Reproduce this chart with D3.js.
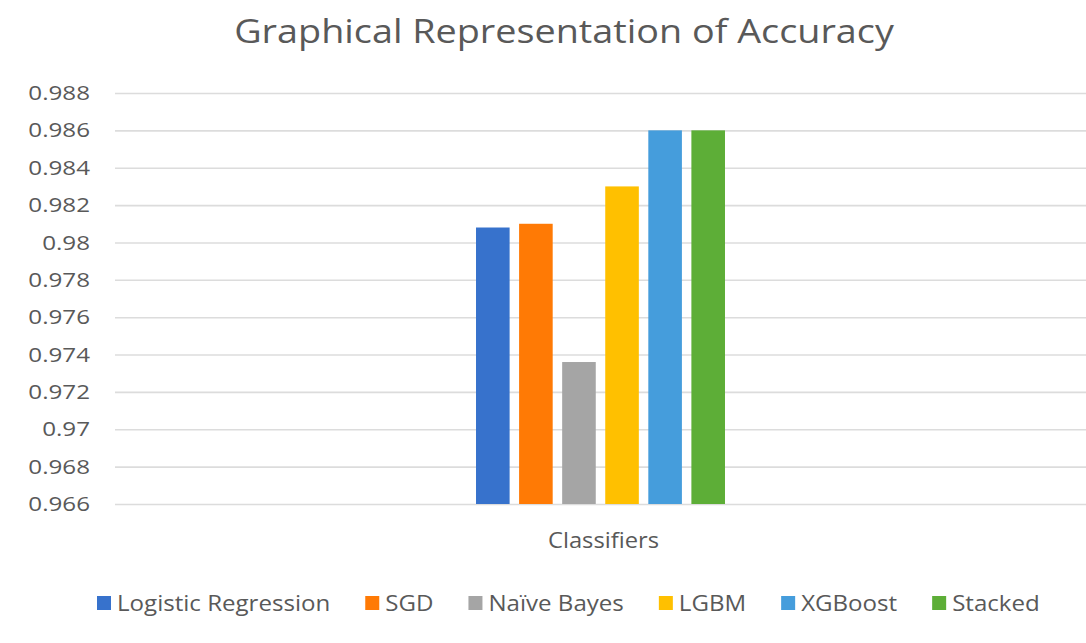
<!DOCTYPE html>
<html>
<head>
<meta charset="utf-8">
<script src="https://cdn.jsdelivr.net/npm/d3@7"></script>
<style>
  html, body { margin: 0; padding: 0; background: #fff; }
  svg { display: block; }
  text { font-family: "Open Sans", "Noto Sans", sans-serif; fill: #595959; }
</style>
</head>
<body>
<svg id="chart" width="1086" height="643"></svg>
<script>
const title = "Graphical Representation of Accuracy";
const categories = ["Classifiers"];
const seriesNames = ["Logistic Regression", "SGD", "Naïve Bayes", "LGBM", "XGBoost", "Stacked"];
const seriesValues = [0.9808, 0.9810, 0.9736, 0.9830, 0.9860, 0.9860];
const seriesColors = ["#3772CC", "#FF7A05", "#A5A5A5", "#FFC000", "#459DDC", "#5DAE37"];
const yTicks = [0.966, 0.968, 0.97, 0.972, 0.974, 0.976, 0.978, 0.98, 0.982, 0.984, 0.986, 0.988];

const svg = d3.select("#chart");
const W = 1086, H = 643;
const margin = { left: 115, right: 0 };
const plotW = W - margin.left - margin.right;
const STRETCH = 1.18;

function stretch(sel, k) {
  sel.each(function () {
    const L = this.getComputedTextLength();
    d3.select(this).attr("textLength", L * k).attr("lengthAdjust", "spacingAndGlyphs");
  });
}

const y = d3.scaleLinear().domain([0.966, 0.988]).range([504, 93]);
const x0 = d3.scaleBand().domain(categories).range([margin.left, W - margin.right]).paddingOuter(1.45).paddingInner(0);
const x1 = d3.scaleBand().domain(seriesNames).range([0, x0.bandwidth()]).paddingInner(0.22).paddingOuter(0);

// gridlines
const grid = svg.append("g").attr("class", "grid")
  .attr("transform", `translate(${margin.left},0)`)
  .call(d3.axisLeft(y).tickValues(yTicks).tickSize(-plotW).tickFormat(""));
grid.select(".domain").remove();
grid.selectAll("line").attr("stroke", "#DCDCDC").attr("stroke-width", 1.6);

// tick labels
const yAxis = svg.append("g")
  .attr("transform", `translate(90,0)`)
  .call(d3.axisLeft(y).tickValues(yTicks).tickSize(0).tickPadding(0).tickFormat(d => String(+d.toFixed(3))));
yAxis.select(".domain").remove();
yAxis.selectAll("text").attr("font-size", 20.5).attr("fill", "#595959")
  .style("font-family", '"Open Sans", sans-serif').call(stretch, STRETCH);

// bars
const groups = svg.append("g").selectAll("g").data(categories).join("g")
  .attr("transform", d => `translate(${x0(d)},0)`);
groups.selectAll("rect")
  .data(() => seriesNames.map((n, i) => ({ name: n, value: seriesValues[i], color: seriesColors[i] })))
  .join("rect")
  .attr("x", d => x1(d.name))
  .attr("width", x1.bandwidth())
  .attr("y", d => y(d.value))
  .attr("height", d => y(0.966) - y(d.value))
  .attr("fill", d => d.color);

// x axis category label
const xAxis = svg.append("g").attr("transform", `translate(0,${y(0.966)})`)
  .call(d3.axisBottom(x0).tickSize(0).tickPadding(29));
xAxis.select(".domain").remove();
xAxis.selectAll("text").attr("font-size", 21).attr("fill", "#595959")
  .style("font-family", '"Open Sans", sans-serif')
  .attr("dx", 3).call(stretch, 1.13);

// title
svg.append("text").attr("x", 564).attr("y", 43).attr("text-anchor", "middle")
  .attr("font-size", 32).text(title).call(stretch, STRETCH);

// legend
const legend = svg.append("g").attr("transform", "translate(97,603)");
let lx = 0;
seriesNames.forEach((n, i) => {
  const g = legend.append("g").attr("transform", `translate(${lx},0)`);
  g.append("rect").attr("x", 0).attr("y", -7).attr("width", 14).attr("height", 14).attr("fill", seriesColors[i]);
  const t = g.append("text").attr("x", 20).attr("y", 0).attr("dy", "0.36em").attr("font-size", 21.5).text(n);
  stretch(t, 1.12);
  lx += 20 + (+t.attr("textLength")) + 35;
});
</script>
</body>
</html>
